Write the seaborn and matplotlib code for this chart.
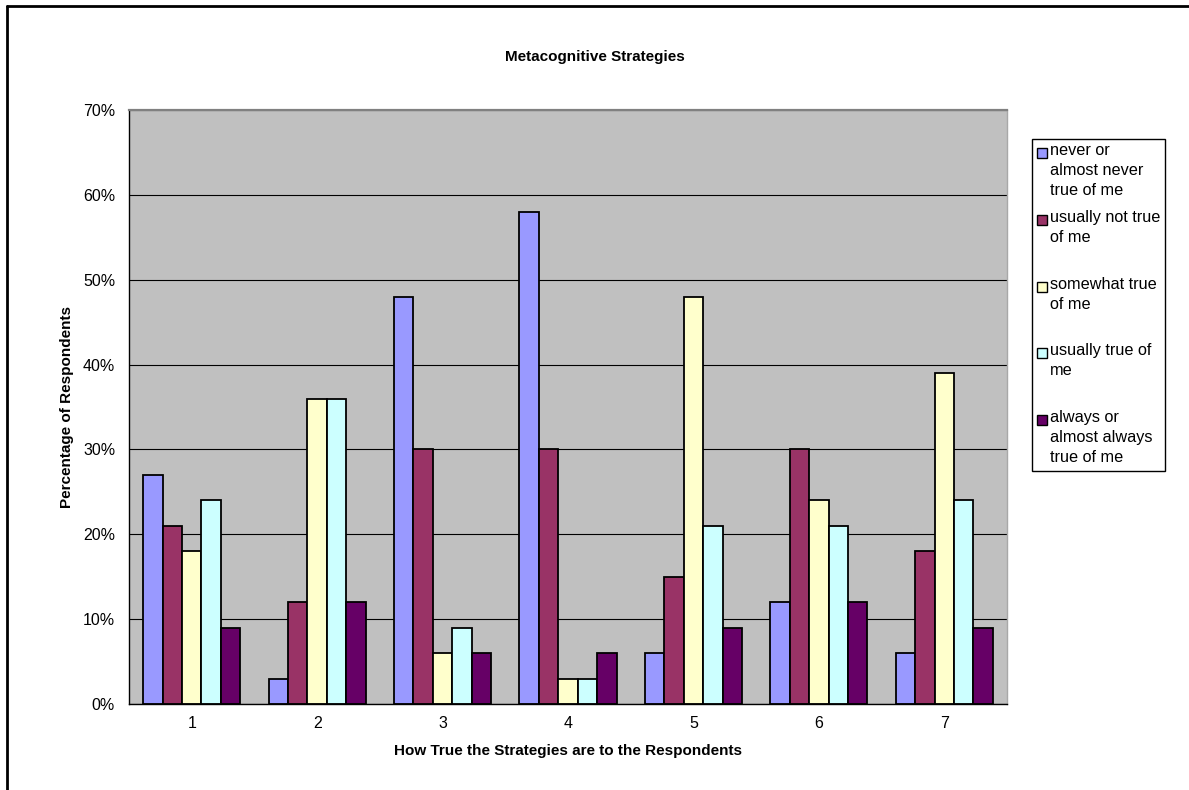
import matplotlib
matplotlib.use("Agg")
import matplotlib.pyplot as plt
from matplotlib.patches import Rectangle
from matplotlib.lines import Line2D
from matplotlib.ticker import FixedLocator, FuncFormatter, NullFormatter
import seaborn as sns
import pandas as pd

# Survey items (x axis) and share of respondents per answer, in percent
items = ["1", "2", "3", "4", "5", "6", "7"]
never = [27, 3, 48, 58, 6, 12, 6]
usually_not = [21, 12, 30, 30, 15, 30, 18]
somewhat = [18, 36, 6, 3, 48, 24, 39]
usually = [24, 36, 9, 3, 21, 21, 24]
always = [9, 12, 6, 6, 9, 12, 9]

responses = [
    "never or\nalmost never\ntrue of me",
    "usually not true\nof me",
    "somewhat true\nof me",
    "usually true of\nme",
    "always or\nalmost always\ntrue of me",
]
series = [never, usually_not, somewhat, usually, always]
colors = ["#9999FF", "#993366", "#FFFFCC", "#CCFFFF", "#660066"]

y_ticks = [0, 10, 20, 30, 40, 50, 60, 70]

rows = []
for resp, vals in zip(responses, series):
    for item, v in zip(items, vals):
        rows.append({"item": item, "response": resp, "pct": v})
df = pd.DataFrame(rows)

sns.set_style("white")
plt.rcParams["font.family"] = ["Liberation Sans", "DejaVu Sans"]
plt.rcParams.update({
    "text.color": "black",
    "axes.labelcolor": "black",
    "xtick.color": "black",
    "ytick.color": "black",
})

W, H = 1189, 790
fig = plt.figure(figsize=(W / 100, H / 100), dpi=100)
fig.patch.set_facecolor("white")

# plot area in pixel coordinates
x0, x1, ytop, ybot = 129, 1007, 110, 704
ax = fig.add_axes([x0 / W, 1 - ybot / H, (x1 - x0) / W, (ybot - ytop) / H])
ax.set_facecolor("#C0C0C0")
ax.set_axisbelow(True)

sns.barplot(
    data=df, x="item", y="pct", hue="response", hue_order=responses,
    order=items, palette=colors, width=0.775, saturation=1,
    edgecolor="black", linewidth=1.3, errorbar=None, legend=False, ax=ax,
)

ax.set_xlim(-0.5, len(items) - 0.5)
ax.set_ylim(0, 70)
ax.yaxis.set_major_locator(FixedLocator(y_ticks))
ax.yaxis.set_major_formatter(FuncFormatter(lambda v, p: f"{v:.0f}%"))
ax.yaxis.grid(True, color="black", linewidth=0.8)
ax.xaxis.grid(False)

# category ticks sit between groups, labels stay centred
ax.xaxis.set_minor_locator(FixedLocator([i - 0.5 for i in range(len(items) + 1)]))
ax.xaxis.set_minor_formatter(NullFormatter())
ax.tick_params(axis="x", which="major", length=0, pad=9, labelsize=11.5,
               labelcolor="black")
ax.tick_params(axis="x", which="minor", length=4, width=1, direction="out", color="black")
ax.tick_params(axis="y", which="major", length=4, width=1, direction="out",
               pad=6, labelsize=11.5, color="black", labelcolor="black")

for side in ["left", "bottom"]:
    ax.spines[side].set_color("black")
    ax.spines[side].set_linewidth(1.0)
ax.spines["top"].set_color("#808080")
ax.spines["top"].set_linewidth(1.6)
ax.spines["right"].set_color("#A8A8A8")
ax.spines["right"].set_linewidth(1.0)

ax.set_xlabel("How True the Strategies are to the Respondents",
              fontsize=11, fontweight="bold", color="black")
ax.set_ylabel("Percentage of Respondents", fontsize=11, fontweight="bold",
              color="black")
ax.xaxis.set_label_coords(0.5, -0.068)
ax.yaxis.set_label_coords(-0.063, 0.5)

fig.text(594.5 / W, 1 - 57 / H, "Metacognitive Strategies", ha="center",
         va="center", fontsize=11, fontweight="bold", color="black")

# legend box with entries aligned to their first text line
lx0, ly0, lx1, ly1 = 1032, 139, 1165, 471
fig.add_artist(Rectangle((lx0 / W, 1 - ly1 / H), (lx1 - lx0) / W, (ly1 - ly0) / H,
                         transform=fig.transFigure, facecolor="white",
                         edgecolor="black", linewidth=1.0))
first_line = [153, 220, 287, 353, 420]
for resp, col, yc in zip(responses, colors, first_line):
    s = 10
    fig.add_artist(Rectangle((1037 / W, 1 - (yc + s / 2) / H), s / W, s / H,
                             transform=fig.transFigure, facecolor=col,
                             edgecolor="black", linewidth=1.0))
    fig.text(1050 / W, 1 - (yc - 10) / H, resp, ha="left", va="top",
             fontsize=11.7, linespacing=1.42, color="black")

# outer chart frame (top and left edges)
fig.add_artist(Line2D([7 / W, 1], [1 - 6 / H, 1 - 6 / H], transform=fig.transFigure,
                      color="black", linewidth=2))
fig.add_artist(Line2D([7 / W, 7 / W], [0, 1 - 6 / H], transform=fig.transFigure,
                      color="black", linewidth=2))

fig.savefig("out.png", dpi=100, facecolor="white")
